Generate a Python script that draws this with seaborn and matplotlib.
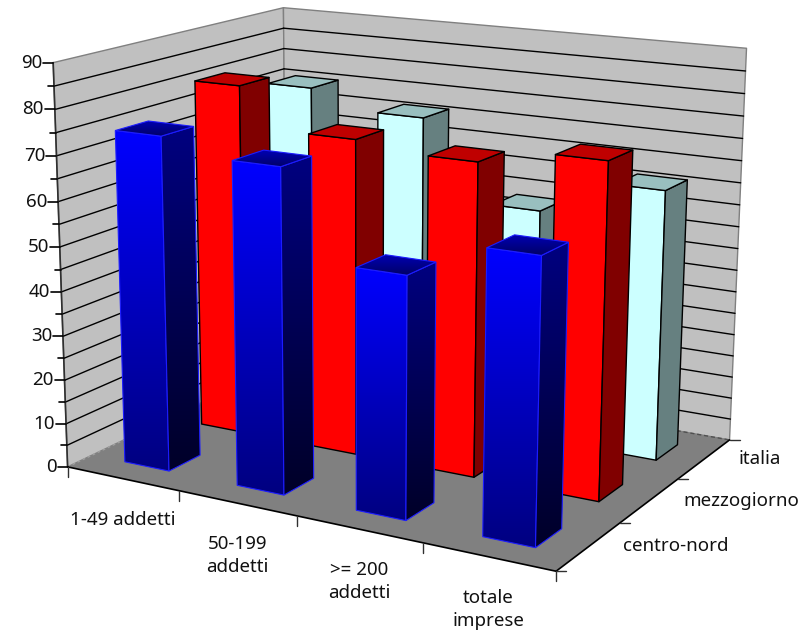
import numpy as np
import matplotlib
matplotlib.use("Agg")
import matplotlib.pyplot as plt
from matplotlib.patches import Polygon
import seaborn as sns

categories = ["1-49 addetti", "50-199\naddetti", ">= 200\naddetti", "totale\nimprese"]
series = ["centro-nord", "mezzogiorno", "italia"]
centro_nord = [74.8, 71.5, 52.5, 60.5]
mezzogiorno = [80.8, 71.8, 70.1, 73.6]
italia = [75.5, 71.4, 53.3, 61.4]
value_ticks = list(range(0, 91, 5))

sns.set_theme(style="white", rc={"figure.dpi": 100})
plt.rcParams["font.family"] = ["Noto Sans", "DejaVu Sans"]

# box corners seen in the picture -> pixel, used to fit the perspective camera
anchors = [
    ((0, 0, 0), (69, 466)), ((4, 0, 0), (556, 572)), ((4, 3, 0), (730, 438)), ((0, 3, 0), (285, 364)),
    ((0, 0, 90), (52, 63)), ((0, 3, 90), (285, 7)), ((4, 3, 90), (746, 49)),
    ((1, 0, 0), (179, 490)), ((2, 0, 0), (297, 516)), ((3, 0, 0), (422, 544)),
    ((4, 1, 0), (620, 523)), ((4, 2, 0), (678, 479)),
    ((0, 0, 40), (62, 291)), ((0, 0, 70), (56, 156)),
]
rows = []
rhs = []
for (X, Y, Z), (u, v) in anchors:
    rows.append([X, Y, Z, 1, 0, 0, 0, 0, -u * X, -u * Y, -u * Z])
    rows.append([0, 0, 0, 0, X, Y, Z, 1, -v * X, -v * Y, -v * Z])
    rhs += [u, v]
p = np.linalg.lstsq(np.array(rows, float), np.array(rhs, float), rcond=None)[0]
cam = np.append(p, 1).reshape(3, 4)


def pr(x, y, z):
    a = cam @ np.array([x, y, z, 1.0])
    return a[0] / a[2], a[1] / a[2]


fig = plt.figure(figsize=(8.12, 6.31))
ax = fig.add_axes([0, 0, 1, 1])
ax.set_axis_off()
order = [10]


def z():
    order[0] += 1
    return order[0]


def face(pts, fc, ec, lw=1.0):
    xy = [pr(*q) for q in pts]
    ax.add_patch(Polygon(xy, closed=True, fc=fc, ec=ec, lw=lw, zorder=z(), joinstyle="round"))


def grad_face(pts, c_top, c_bottom, ec, lw=0.8):
    xy = np.array([pr(*q) for q in pts])
    cols = np.array(sns.blend_palette([c_top, c_bottom], n_colors=128))[:, None, :]
    clip = Polygon(xy, closed=True, transform=ax.transData)
    im = ax.imshow(cols, extent=[xy[:, 0].min(), xy[:, 0].max(), xy[:, 1].max(), xy[:, 1].min()],
                   aspect="auto", interpolation="bilinear", zorder=z())
    im.set_clip_path(clip)
    ax.add_patch(Polygon(xy, closed=True, fc="none", ec=ec, lw=lw, zorder=z()))


def line(a, b, color="black", lw=1.0, ls="-"):
    pa, pb = pr(*a), pr(*b)
    ax.plot([pa[0], pb[0]], [pa[1], pb[1]], color=color, lw=lw, ls=ls, zorder=z(), solid_capstyle="round")


# walls and floor
face([(0, 0, 0), (0, 3, 0), (0, 3, 90), (0, 0, 90)], "#c0c0c0", "#808080")
face([(0, 3, 0), (4, 3, 0), (4, 3, 90), (0, 3, 90)], "#c0c0c0", "#808080")
face([(0, 0, 0), (4, 0, 0), (4, 3, 0), (0, 3, 0)], "#808080", "none", 0)
for v in value_ticks[1:-1]:
    line((0, 0, v), (0, 3, v), lw=1.0)
    line((0, 3, v), (4, 3, v), lw=1.0)
line((0, 3, 0), (4, 3, 0), color="#505050", lw=1.0, ls=(0, (3, 2)))
line((0, 0, 0), (0, 3, 0), color="#a0a0a0", lw=1.0, ls=(0, (2, 2)))

# axes lines and ticks
line((0, 0, 0), (0, 0, 90), color="#303030", lw=1.2)
line((0, 0, 0), (4, 0, 0), lw=1.2)
line((4, 0, 0), (4, 3, 0), lw=1.2)
for v in value_ticks:
    px, py = pr(0, 0, v)
    tl = 10 if v % 10 == 0 else 6
    ax.plot([px - tl, px], [py, py], color="black", lw=1.2, zorder=z())
    if v % 10 == 0:
        ax.text(px - 11, py, str(v), ha="right", va="center", fontsize=13.5, color="#111111", zorder=z())
for i in range(5):
    px, py = pr(i, 0, 0)
    ax.plot([px, px], [py, py + 10], color="#303030", lw=1.0, zorder=z())
for j in range(4):
    px, py = pr(4, j, 0)
    ax.plot([px, px + 10], [py, py], color="#303030", lw=1.0, zorder=z())
for i, c in enumerate(categories):
    px, py = pr(i + 0.5, 0, 0)
    ax.text(px, py + 32, c, ha="center", va="top", fontsize=13.5, color="#111111",
            linespacing=1.38, zorder=z())
for j, s in enumerate(series):
    px, py = pr(4, j + 0.5, 0)
    ax.text(px + 34, py, s, ha="left", va="center", fontsize=13.5, color="#111111", zorder=z())

# bars, back row first, left to right in each row
bar_x = 0.30
bar_y = 0.30
values = [centro_nord, mezzogiorno, italia]
for j in [2, 1, 0]:
    for i, val in enumerate(values[j]):
        x0, x1 = i + bar_x, i + 1 - bar_x
        y0, y1 = j + bar_y, j + 1 - bar_y
        fr = [(x0, y0, 0), (x1, y0, 0), (x1, y0, val), (x0, y0, val)]
        si = [(x1, y0, 0), (x1, y1, 0), (x1, y1, val), (x1, y0, val)]
        to = [(x0, y0, val), (x1, y0, val), (x1, y1, val), (x0, y1, val)]
        if j == 0:
            grad_face(fr, "#0000ff", "#000080", "#1c1cff")
            grad_face(si, "#000080", "#000028", "#1c1cff")
            grad_face(to, "#0000b4", "#000068", "#1c1cff")
        elif j == 1:
            face(fr, "#ff0000", "black")
            face(si, "#800000", "black")
            face(to, "#bf0000", "black")
        else:
            face(fr, "#ccffff", "black")
            face(si, "#668080", "black")
            face(to, "#99bfbf", "black")

ax.set_xlim(0, 812)
ax.set_ylim(631, 0)
fig.savefig("out.png", dpi=100)
